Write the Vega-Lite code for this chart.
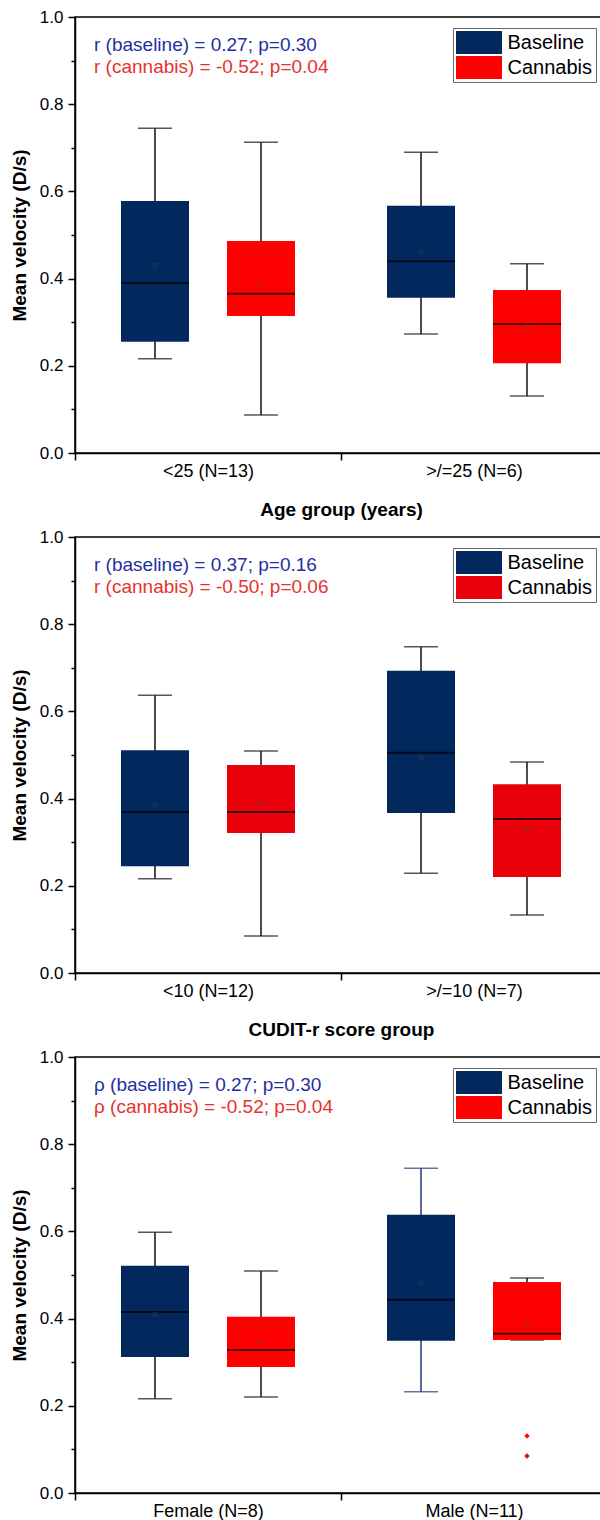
{
  "$schema": "https://vega.github.io/schema/vega-lite/v6.json",
  "padding": {"left": 9, "top": 7, "right": 0, "bottom": 0},
  "background": "white",
  "bounds": "flush",
  "spacing": 84,
  "datasets": {
    "boxes": [
      {"panel": 1, "group": "<25 (N=13)", "series": "Baseline", "lower": 0.216, "q1": 0.255, "median": 0.390, "q3": 0.578, "upper": 0.745, "mean": 0.431},
      {"panel": 1, "group": "<25 (N=13)", "series": "Cannabis", "lower": 0.087, "q1": 0.314, "median": 0.365, "q3": 0.486, "upper": 0.713, "mean": 0.388},
      {"panel": 1, "group": ">/=25 (N=6)", "series": "Baseline", "lower": 0.273, "q1": 0.356, "median": 0.440, "q3": 0.567, "upper": 0.690, "mean": 0.461},
      {"panel": 1, "group": ">/=25 (N=6)", "series": "Cannabis", "lower": 0.131, "q1": 0.206, "median": 0.296, "q3": 0.374, "upper": 0.434, "mean": 0.291},
      {"panel": 2, "group": "<10 (N=12)", "series": "Baseline", "lower": 0.216, "q1": 0.245, "median": 0.369, "q3": 0.511, "upper": 0.637, "mean": 0.385},
      {"panel": 2, "group": "<10 (N=12)", "series": "Cannabis", "lower": 0.085, "q1": 0.321, "median": 0.369, "q3": 0.477, "upper": 0.509, "mean": 0.392},
      {"panel": 2, "group": ">/=10 (N=7)", "series": "Baseline", "lower": 0.229, "q1": 0.367, "median": 0.505, "q3": 0.693, "upper": 0.748, "mean": 0.493},
      {"panel": 2, "group": ">/=10 (N=7)", "series": "Cannabis", "lower": 0.133, "q1": 0.220, "median": 0.353, "q3": 0.433, "upper": 0.484, "mean": 0.328},
      {"panel": 3, "group": "Female (N=8)", "series": "Baseline", "lower": 0.216, "q1": 0.312, "median": 0.415, "q3": 0.521, "upper": 0.598, "mean": 0.410},
      {"panel": 3, "group": "Female (N=8)", "series": "Cannabis", "lower": 0.220, "q1": 0.289, "median": 0.328, "q3": 0.404, "upper": 0.509, "mean": 0.346},
      {"panel": 3, "group": "Male (N=11)", "series": "Baseline", "lower": 0.232, "q1": 0.349, "median": 0.443, "q3": 0.638, "upper": 0.745, "mean": 0.482},
      {"panel": 3, "group": "Male (N=11)", "series": "Cannabis", "lower": 0.351, "q1": 0.351, "median": 0.365, "q3": 0.484, "upper": 0.493, "mean": 0.388}
    ],
    "outliers": [
      {"panel": 3, "group": "Male (N=11)", "series": "Cannabis", "value": 0.131},
      {"panel": 3, "group": "Male (N=11)", "series": "Cannabis", "value": 0.085}
    ],
    "notes": [
      {"panel": 1, "series": "Baseline", "label": "r (baseline) = 0.27; p=0.30"},
      {"panel": 1, "series": "Cannabis", "label": "r (cannabis) = -0.52; p=0.04"},
      {"panel": 2, "series": "Baseline", "label": "r (baseline) = 0.37; p=0.16"},
      {"panel": 2, "series": "Cannabis", "label": "r (cannabis) = -0.50; p=0.06"},
      {"panel": 3, "series": "Baseline", "label": "ρ (baseline) = 0.27; p=0.30"},
      {"panel": 3, "series": "Cannabis", "label": "ρ (cannabis) = -0.52; p=0.04"}
    ]
  },
  "vconcat": [
    {
      "width": 532, "height": 436,
      "layer": [
        {"data": {"name": "boxes"}, "transform": [{"filter": "datum.panel == 1"}],
         "mark": {"type": "rule", "strokeWidth": 1.5, "color": "#111"},
         "encoding": {
           "x": {"field": "group", "type": "nominal", "scale": {"paddingInner": 0, "paddingOuter": 0},
                 "axis": {"title": "Age group (years)", "labelAngle": 0, "labelFontSize": 18, "labelPadding": 2, "tickBand": "extent", "tickSize": 7, "tickColor": "black", "tickWidth": 1.5, "domainColor": "black", "domainWidth": 1.5, "labelColor": "black", "titleFontSize": 19, "titleFontWeight": "bold", "titlePadding": 20, "titleColor": "black", "grid": false}},
           "xOffset": {"field": "series", "type": "nominal", "scale": {"paddingInner": 0.3585, "paddingOuter": 0.434}},
           "y": {"field": "lower", "type": "quantitative", "scale": {"domain": [0, 1], "nice": false},
                 "axis": {"values": [0, 0.1, 0.2, 0.3, 0.4, 0.5, 0.6, 0.7, 0.8, 0.9, 1.0], "labelExpr": "round(datum.value*10) % 2 == 0 ? format(datum.value, '.1f') : ''", "tickSize": {"condition": {"test": "round(datum.value*10) % 2 == 0", "value": 7}, "value": 4}, "labelOverlap": false, "grid": false, "labelFontSize": 17, "labelPadding": 5, "title": "Mean velocity (D/s)", "titleFontSize": 19, "titleFontWeight": "bold", "titlePadding": 10, "domainColor": "black", "domainWidth": 1.5, "tickColor": "black", "tickWidth": 1.5, "labelColor": "black", "titleColor": "black"}},
           "y2": {"field": "upper"}
         }},
        {"data": {"name": "boxes"}, "transform": [{"filter": "datum.panel == 1"}],
         "mark": {"type": "tick", "size": 34, "thickness": 1.5, "color": "#111"},
         "encoding": {"x": {"field": "group", "type": "nominal"}, "xOffset": {"field": "series", "type": "nominal"}, "y": {"field": "lower", "type": "quantitative"}}},
        {"data": {"name": "boxes"}, "transform": [{"filter": "datum.panel == 1"}],
         "mark": {"type": "tick", "size": 34, "thickness": 1.5, "color": "#111"},
         "encoding": {"x": {"field": "group", "type": "nominal"}, "xOffset": {"field": "series", "type": "nominal"}, "y": {"field": "upper", "type": "quantitative"}}},
        {"data": {"name": "boxes"}, "transform": [{"filter": "datum.panel == 1"}],
         "mark": {"type": "bar"},
         "encoding": {"x": {"field": "group", "type": "nominal"}, "xOffset": {"field": "series", "type": "nominal"},
           "y": {"field": "q1", "type": "quantitative"}, "y2": {"field": "q3"},
           "color": {"field": "series", "type": "nominal", "scale": {"domain": ["Baseline", "Cannabis"], "range": ["#03285e", "#ff0000"]},
             "legend": {"title": null, "orient": "top-right", "offset": 11, "symbolType": "M-2,-1H2V1H-2Z", "symbolSize": 529, "symbolStrokeWidth": 0, "symbolOffset": 11.5, "labelOffset": 17, "labelFontSize": 20, "labelColor": "black", "strokeColor": "#666", "fillColor": "white", "padding": 3, "rowPadding": 2}}}},
        {"data": {"name": "boxes"}, "transform": [{"filter": "datum.panel == 1"}],
         "mark": {"type": "tick", "size": 68, "thickness": 2, "color": "#000"},
         "encoding": {"x": {"field": "group", "type": "nominal"}, "xOffset": {"field": "series", "type": "nominal"}, "y": {"field": "median", "type": "quantitative"}}},
        {"data": {"name": "boxes"}, "transform": [{"filter": "datum.panel == 1"}],
         "mark": {"type": "point", "shape": "square", "size": 12, "filled": false, "strokeWidth": 0.8, "color": "#444"},
         "encoding": {"x": {"field": "group", "type": "nominal"}, "xOffset": {"field": "series", "type": "nominal"}, "y": {"field": "mean", "type": "quantitative"}}},
        {"data": {"name": "notes"}, "transform": [{"filter": "datum.panel == 1 && datum.series == 'Baseline'"}],
         "mark": {"type": "text", "align": "left", "baseline": "middle", "dx": 19, "fontSize": 19, "color": "#1f2f9f"},
         "encoding": {"x": {"datum": "<25 (N=13)", "type": "nominal", "bandPosition": 0}, "y": {"datum": 0.936, "type": "quantitative"}, "text": {"field": "label"}}},
        {"data": {"name": "notes"}, "transform": [{"filter": "datum.panel == 1 && datum.series == 'Cannabis'"}],
         "mark": {"type": "text", "align": "left", "baseline": "middle", "dx": 19, "fontSize": 19, "color": "#e8322e"},
         "encoding": {"x": {"datum": "<25 (N=13)", "type": "nominal", "bandPosition": 0}, "y": {"datum": 0.885, "type": "quantitative"}, "text": {"field": "label"}}}
      ]
    },
    {
      "width": 532, "height": 436,
      "layer": [
        {"data": {"name": "boxes"}, "transform": [{"filter": "datum.panel == 2"}],
         "mark": {"type": "rule", "strokeWidth": 1.5, "color": "#111"},
         "encoding": {
           "x": {"field": "group", "type": "nominal", "scale": {"paddingInner": 0, "paddingOuter": 0},
                 "axis": {"title": "CUDIT-r score group", "labelAngle": 0, "labelFontSize": 18, "labelPadding": 2, "tickBand": "extent", "tickSize": 7, "tickColor": "black", "tickWidth": 1.5, "domainColor": "black", "domainWidth": 1.5, "labelColor": "black", "titleFontSize": 19, "titleFontWeight": "bold", "titlePadding": 20, "titleColor": "black", "grid": false}},
           "xOffset": {"field": "series", "type": "nominal", "scale": {"paddingInner": 0.3585, "paddingOuter": 0.434}},
           "y": {"field": "lower", "type": "quantitative", "scale": {"domain": [0, 1], "nice": false},
                 "axis": {"values": [0, 0.1, 0.2, 0.3, 0.4, 0.5, 0.6, 0.7, 0.8, 0.9, 1.0], "labelExpr": "round(datum.value*10) % 2 == 0 ? format(datum.value, '.1f') : ''", "tickSize": {"condition": {"test": "round(datum.value*10) % 2 == 0", "value": 7}, "value": 4}, "labelOverlap": false, "grid": false, "labelFontSize": 17, "labelPadding": 5, "title": "Mean velocity (D/s)", "titleFontSize": 19, "titleFontWeight": "bold", "titlePadding": 10, "domainColor": "black", "domainWidth": 1.5, "tickColor": "black", "tickWidth": 1.5, "labelColor": "black", "titleColor": "black"}},
           "y2": {"field": "upper"}
         }},
        {"data": {"name": "boxes"}, "transform": [{"filter": "datum.panel == 2"}],
         "mark": {"type": "tick", "size": 34, "thickness": 1.5, "color": "#111"},
         "encoding": {"x": {"field": "group", "type": "nominal"}, "xOffset": {"field": "series", "type": "nominal"}, "y": {"field": "lower", "type": "quantitative"}}},
        {"data": {"name": "boxes"}, "transform": [{"filter": "datum.panel == 2"}],
         "mark": {"type": "tick", "size": 34, "thickness": 1.5, "color": "#111"},
         "encoding": {"x": {"field": "group", "type": "nominal"}, "xOffset": {"field": "series", "type": "nominal"}, "y": {"field": "upper", "type": "quantitative"}}},
        {"data": {"name": "boxes"}, "transform": [{"filter": "datum.panel == 2"}],
         "mark": {"type": "bar"},
         "encoding": {"x": {"field": "group", "type": "nominal"}, "xOffset": {"field": "series", "type": "nominal"},
           "y": {"field": "q1", "type": "quantitative"}, "y2": {"field": "q3"},
           "color": {"field": "series", "type": "nominal", "scale": {"domain": ["Baseline", "Cannabis"], "range": ["#03285e", "#e8000b"]},
             "legend": {"title": null, "orient": "top-right", "offset": 11, "symbolType": "M-2,-1H2V1H-2Z", "symbolSize": 529, "symbolStrokeWidth": 0, "symbolOffset": 11.5, "labelOffset": 17, "labelFontSize": 20, "labelColor": "black", "strokeColor": "#666", "fillColor": "white", "padding": 3, "rowPadding": 2}}}},
        {"data": {"name": "boxes"}, "transform": [{"filter": "datum.panel == 2"}],
         "mark": {"type": "tick", "size": 68, "thickness": 2, "color": "#000"},
         "encoding": {"x": {"field": "group", "type": "nominal"}, "xOffset": {"field": "series", "type": "nominal"}, "y": {"field": "median", "type": "quantitative"}}},
        {"data": {"name": "boxes"}, "transform": [{"filter": "datum.panel == 2"}],
         "mark": {"type": "point", "shape": "square", "size": 12, "filled": false, "strokeWidth": 0.8, "color": "#444"},
         "encoding": {"x": {"field": "group", "type": "nominal"}, "xOffset": {"field": "series", "type": "nominal"}, "y": {"field": "mean", "type": "quantitative"}}},
        {"data": {"name": "notes"}, "transform": [{"filter": "datum.panel == 2 && datum.series == 'Baseline'"}],
         "mark": {"type": "text", "align": "left", "baseline": "middle", "dx": 19, "fontSize": 19, "color": "#1f2f9f"},
         "encoding": {"x": {"datum": "<10 (N=12)", "type": "nominal", "bandPosition": 0}, "y": {"datum": 0.936, "type": "quantitative"}, "text": {"field": "label"}}},
        {"data": {"name": "notes"}, "transform": [{"filter": "datum.panel == 2 && datum.series == 'Cannabis'"}],
         "mark": {"type": "text", "align": "left", "baseline": "middle", "dx": 19, "fontSize": 19, "color": "#e8322e"},
         "encoding": {"x": {"datum": "<10 (N=12)", "type": "nominal", "bandPosition": 0}, "y": {"datum": 0.885, "type": "quantitative"}, "text": {"field": "label"}}}
      ]
    },
    {
      "width": 532, "height": 436,
      "layer": [
        {"data": {"name": "boxes"}, "transform": [{"filter": "datum.panel == 3"}],
         "mark": {"type": "rule", "strokeWidth": 1.5},
         "encoding": {
           "x": {"field": "group", "type": "nominal", "scale": {"paddingInner": 0, "paddingOuter": 0},
                 "axis": {"title": null, "labelAngle": 0, "labelFontSize": 18, "labelPadding": 2, "tickBand": "extent", "tickSize": 7, "tickColor": "black", "tickWidth": 1.5, "domainColor": "black", "domainWidth": 1.5, "labelColor": "black", "grid": false}},
           "xOffset": {"field": "series", "type": "nominal", "scale": {"paddingInner": 0.3585, "paddingOuter": 0.434}},
           "y": {"field": "lower", "type": "quantitative", "scale": {"domain": [0, 1], "nice": false},
                 "axis": {"values": [0, 0.1, 0.2, 0.3, 0.4, 0.5, 0.6, 0.7, 0.8, 0.9, 1.0], "labelExpr": "round(datum.value*10) % 2 == 0 ? format(datum.value, '.1f') : ''", "tickSize": {"condition": {"test": "round(datum.value*10) % 2 == 0", "value": 7}, "value": 4}, "labelOverlap": false, "grid": false, "labelFontSize": 17, "labelPadding": 5, "title": "Mean velocity (D/s)", "titleFontSize": 19, "titleFontWeight": "bold", "titlePadding": 10, "domainColor": "black", "domainWidth": 1.5, "tickColor": "black", "tickWidth": 1.5, "labelColor": "black", "titleColor": "black"}},
           "y2": {"field": "upper"},
           "color": {"condition": {"test": "datum.group == 'Male (N=11)' && datum.series == 'Baseline'", "value": "#1f3a7a"}, "value": "#111"}
         }},
        {"data": {"name": "boxes"}, "transform": [{"filter": "datum.panel == 3"}],
         "mark": {"type": "tick", "size": 34, "thickness": 1.5},
         "encoding": {"x": {"field": "group", "type": "nominal"}, "xOffset": {"field": "series", "type": "nominal"}, "y": {"field": "lower", "type": "quantitative"},
           "color": {"condition": {"test": "datum.group == 'Male (N=11)' && datum.series == 'Baseline'", "value": "#1f3a7a"}, "value": "#111"}}},
        {"data": {"name": "boxes"}, "transform": [{"filter": "datum.panel == 3"}],
         "mark": {"type": "tick", "size": 34, "thickness": 1.5},
         "encoding": {"x": {"field": "group", "type": "nominal"}, "xOffset": {"field": "series", "type": "nominal"}, "y": {"field": "upper", "type": "quantitative"},
           "color": {"condition": {"test": "datum.group == 'Male (N=11)' && datum.series == 'Baseline'", "value": "#1f3a7a"}, "value": "#111"}}},
        {"data": {"name": "boxes"}, "transform": [{"filter": "datum.panel == 3"}],
         "mark": {"type": "bar"},
         "encoding": {"x": {"field": "group", "type": "nominal"}, "xOffset": {"field": "series", "type": "nominal"},
           "y": {"field": "q1", "type": "quantitative"}, "y2": {"field": "q3"},
           "color": {"field": "series", "type": "nominal", "scale": {"domain": ["Baseline", "Cannabis"], "range": ["#03285e", "#ff0000"]},
             "legend": {"title": null, "orient": "top-right", "offset": 11, "symbolType": "M-2,-1H2V1H-2Z", "symbolSize": 529, "symbolStrokeWidth": 0, "symbolOffset": 11.5, "labelOffset": 17, "labelFontSize": 20, "labelColor": "black", "strokeColor": "#666", "fillColor": "white", "padding": 3, "rowPadding": 2}}}},
        {"data": {"name": "boxes"}, "transform": [{"filter": "datum.panel == 3"}],
         "mark": {"type": "tick", "size": 68, "thickness": 2, "color": "#000"},
         "encoding": {"x": {"field": "group", "type": "nominal"}, "xOffset": {"field": "series", "type": "nominal"}, "y": {"field": "median", "type": "quantitative"}}},
        {"data": {"name": "boxes"}, "transform": [{"filter": "datum.panel == 3"}],
         "mark": {"type": "point", "shape": "square", "size": 12, "filled": false, "strokeWidth": 0.8, "color": "#444"},
         "encoding": {"x": {"field": "group", "type": "nominal"}, "xOffset": {"field": "series", "type": "nominal"}, "y": {"field": "mean", "type": "quantitative"}}},
        {"data": {"name": "outliers"}, "transform": [{"filter": "datum.panel == 3"}],
         "mark": {"type": "point", "shape": "diamond", "size": 30, "filled": true, "color": "#ff0000", "opacity": 1},
         "encoding": {"x": {"field": "group", "type": "nominal"}, "xOffset": {"field": "series", "type": "nominal"}, "y": {"field": "value", "type": "quantitative"}}},
        {"data": {"name": "notes"}, "transform": [{"filter": "datum.panel == 3 && datum.series == 'Baseline'"}],
         "mark": {"type": "text", "align": "left", "baseline": "middle", "dx": 19, "fontSize": 19, "color": "#1f2f9f"},
         "encoding": {"x": {"datum": "Female (N=8)", "type": "nominal", "bandPosition": 0}, "y": {"datum": 0.936, "type": "quantitative"}, "text": {"field": "label"}}},
        {"data": {"name": "notes"}, "transform": [{"filter": "datum.panel == 3 && datum.series == 'Cannabis'"}],
         "mark": {"type": "text", "align": "left", "baseline": "middle", "dx": 19, "fontSize": 19, "color": "#e8322e"},
         "encoding": {"x": {"datum": "Female (N=8)", "type": "nominal", "bandPosition": 0}, "y": {"datum": 0.885, "type": "quantitative"}, "text": {"field": "label"}}}
      ]
    }
  ],
  "resolve": {
    "scale": {"x": "independent", "y": "independent", "color": "independent", "xOffset": "independent"},
    "axis": {"x": "independent", "y": "independent"},
    "legend": {"color": "independent"}
  },
  "config": {
    "font": "Liberation Sans",
    "view": {"stroke": "black", "strokeWidth": 1.5},
    "legend": {"labelFont": "Liberation Sans"}
  }
}
